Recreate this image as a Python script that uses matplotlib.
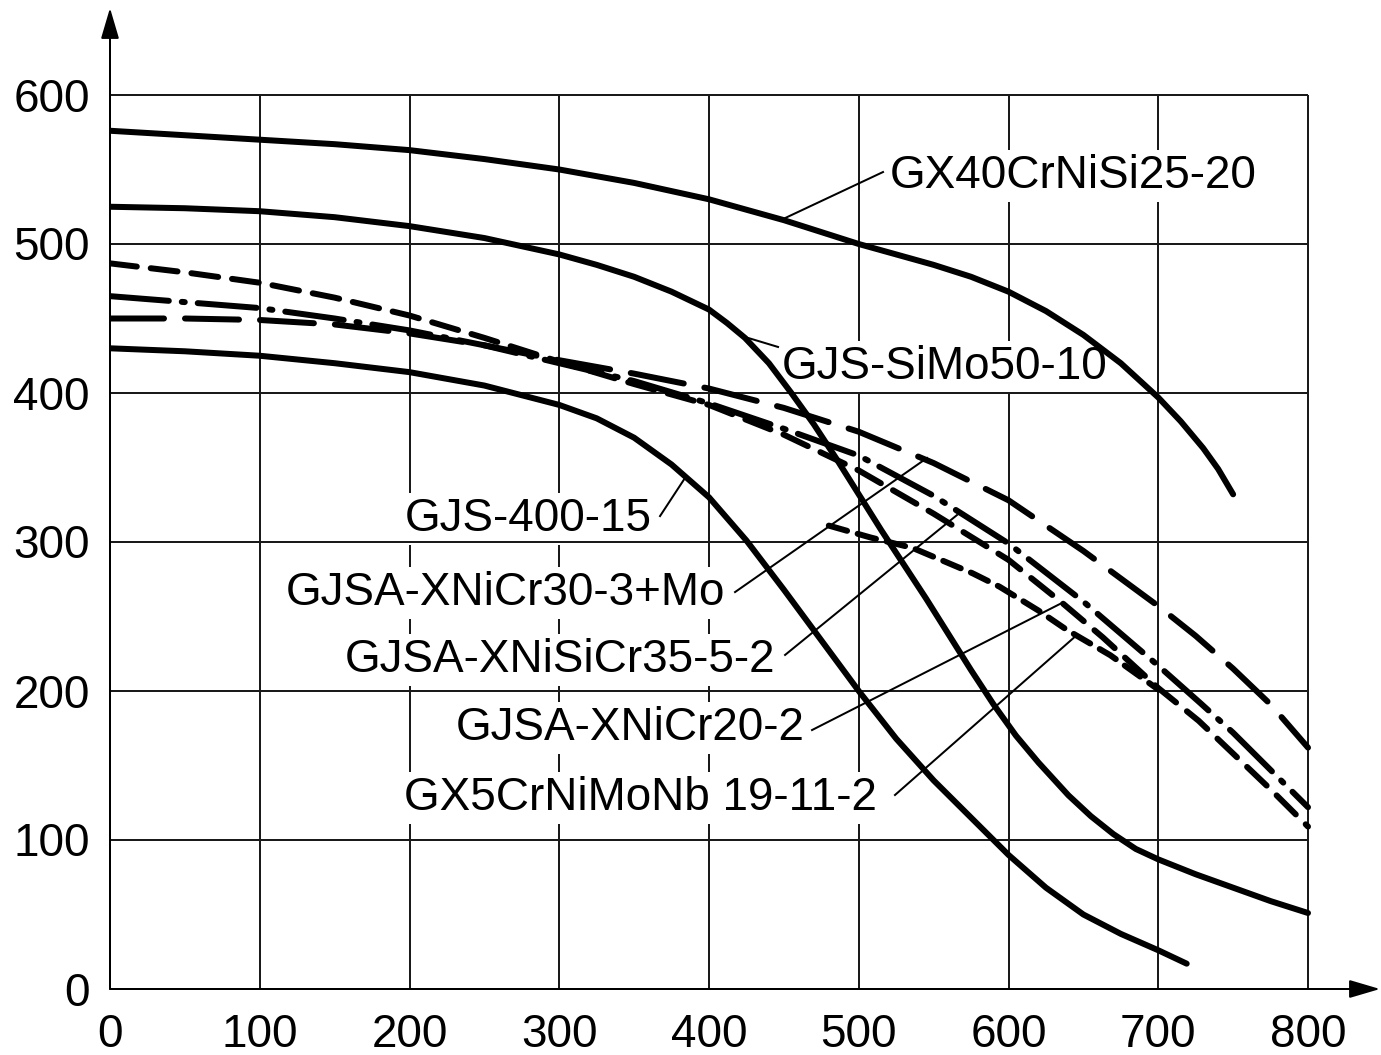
import matplotlib
matplotlib.use('Agg')
import matplotlib.pyplot as plt

plt.rcParams['font.family'] = ['Liberation Sans', 'DejaVu Sans']
plt.rcParams['lines.scale_dashes'] = False

# ---------------- data ----------------
x_ticks = [0, 100, 200, 300, 400, 500, 600, 700, 800]
y_ticks = [0, 100, 200, 300, 400, 500, 600]

gx40_x = [0, 50, 100, 150, 200, 250, 300, 350, 400, 425, 450, 475, 500, 525, 550, 575, 600, 625, 650, 675, 700, 715, 730, 740, 750]
gx40_y = [576, 573, 570, 567, 563, 557, 550, 541, 530, 523, 516, 508, 500, 493, 486, 478, 468, 455, 439, 420, 397, 381, 363, 349, 332]

simo_x = [0, 50, 100, 150, 200, 250, 300, 325, 350, 375, 400, 412, 424, 440, 455, 470, 485, 500, 515, 530, 545, 560, 575, 590, 605, 620, 640, 655, 670, 685, 700, 725, 750, 775, 800]
simo_y = [525, 524, 522, 518, 512, 504, 493, 486, 478, 468, 456, 447, 437, 420, 400, 379, 356, 332, 308, 285, 262, 238, 214, 191, 170, 152, 130, 116, 104, 94, 87, 77, 68, 59, 51]

gjs400_x = [0, 50, 100, 150, 200, 250, 300, 325, 350, 375, 400, 425, 450, 475, 500, 525, 550, 575, 600, 625, 650, 675, 700, 719]
gjs400_y = [430, 428, 425, 420, 414, 405, 392, 383, 370, 352, 330, 301, 268, 234, 200, 168, 140, 115, 90, 68, 50, 37, 26, 17]

nicr30_x = [0, 50, 100, 150, 200, 250, 300, 350, 400, 450, 500, 550, 600, 650, 700, 725, 750, 775, 800]
nicr30_y = [450, 450, 449, 446, 440, 432, 422, 413, 403, 390, 374, 353, 328, 294, 257, 237, 215, 191, 162]

nisicr35_x = [0, 50, 100, 150, 200, 250, 300, 350, 400, 450, 500, 550, 600, 650, 700, 728, 750, 775, 800]
nisicr35_y = [465, 461, 457, 450, 442, 432, 420, 408, 393, 376, 358, 331, 299, 260, 217, 192, 172, 147, 122]

nicr20_x = [0, 50, 100, 150, 200, 250, 300, 350, 400, 450, 500, 550, 600, 636, 663, 700, 727, 750, 775, 800]
nicr20_y = [487, 481, 474, 464, 452, 437, 421, 406, 392, 372, 348, 319, 288, 259, 236, 202, 180, 158, 134, 109]

gx5_x = [480, 508, 536, 576, 594, 620, 639, 668, 700]
gx5_y = [311, 303, 296, 279, 270, 254, 241, 224, 201]

names = ['GX40CrNiSi25-20', 'GJS-SiMo50-10', 'GJS-400-15', 'GJSA-XNiCr30-3+Mo',
         'GJSA-XNiSiCr35-5-2', 'GJSA-XNiCr20-2', 'GX5CrNiMoNb 19-11-2']

# ---------------- layout ----------------
W, H, DPI = 1381, 1055, 100
PT = 72 / DPI
X0, X800 = 110, 1308
Y0, Y600 = 989, 95
sx = (X800 - X0) / 800
sy = (Y0 - Y600) / 600

fig = plt.figure(figsize=(W / DPI, H / DPI), dpi=DPI)
ax = fig.add_axes([X0 / W, (H - Y0) / H, (W - X0) / W, Y0 / H])
ax.set_xlim(0, (W - X0) / sx)
ax.set_ylim(0, Y0 / sy)
ax.set_axis_off()

FS = 33
grid_kw = dict(color='#1a1a1a', lw=2 * PT, solid_capstyle='butt')
for v in x_ticks[1:]:
    ax.plot([v, v], [0, y_ticks[-1]], zorder=1, **grid_kw)
for v in y_ticks[1:]:
    ax.plot([0, x_ticks[-1]], [v, v], zorder=2.5, **grid_kw)

arrow = dict(arrowstyle='-|>,head_length=0.95,head_width=0.28', mutation_scale=20,
             lw=2 * PT, color='black', shrinkA=0, shrinkB=0)
ax.annotate('', xy=(W - 1, H - Y0), xytext=(X0, H - Y0), xycoords='figure pixels',
            textcoords='figure pixels', arrowprops=arrow, zorder=4)
ax.annotate('', xy=(X0, H - 8), xytext=(X0, H - Y0), xycoords='figure pixels',
            textcoords='figure pixels', arrowprops=arrow, zorder=4)

for v in x_ticks:
    ax.annotate(str(v), xy=(v, 0), xytext=(0, -58 * PT), textcoords='offset points',
                ha='center', va='baseline', fontsize=FS)
for v in y_ticks:
    ax.annotate(str(v), xy=(0, v), xytext=(-20 * PT, -16.5 * PT), textcoords='offset points',
                ha='right', va='baseline', fontsize=FS)

LW = 6 * PT
styles = {
    'solid': '-',
    'long': (0, (54 * PT, 21 * PT)),
    'medium': (0, (27 * PT, 14 * PT)),
    'dashdot': (0, (59 * PT, 13 * PT, 3 * PT, 13 * PT)),
    'short': (0, (19 * PT, 11 * PT)),
}
series = [
    (gx40_x, gx40_y, 'solid'),
    (simo_x, simo_y, 'solid'),
    (gjs400_x, gjs400_y, 'solid'),
    (nicr30_x, nicr30_y, 'long'),
    (nisicr35_x, nisicr35_y, 'dashdot'),
    (nicr20_x, nicr20_y, 'medium'),
    (gx5_x, gx5_y, 'short'),
]
for xs, ys, st in series:
    ax.plot(xs, ys, color='black', lw=LW, linestyle=styles[st], solid_capstyle='round',
            dash_capstyle='round', solid_joinstyle='round', dash_joinstyle='round', zorder=3)

# label: (text anchor x, baseline y, ha, pointer start, pointer end)
label_layout = [
    (520.9, 537.6, 'left', (516.2, 548.3), (450.8, 517.4)),
    (448.7, 409.4, 'left', (446.1, 430.9), (424.0, 437.6)),
    (361.9, 307.4, 'right', (367.3, 317.4), (384.0, 343.0)),
    (410.7, 257.7, 'right', (417.4, 266.4), (545.6, 356.4)),
    (444.1, 212.8, 'right', (450.8, 224.2), (565.6, 318.1)),
    (464.1, 167.1, 'right', (468.8, 173.8), (635.7, 259.1)),
    (512.2, 120.1, 'right', (524.2, 130.2), (645.7, 237.6)),
]
for name, (tx, ty, ha, p0, p1) in zip(names, label_layout):
    ax.text(tx, ty, name, ha=ha, va='baseline', fontsize=FS, zorder=2,
            bbox=dict(facecolor='white', edgecolor='none', pad=3))
    ax.plot([p0[0], p1[0]], [p0[1], p1[1]], color='black', lw=2 * PT, zorder=3)

fig.savefig('out.png', dpi=DPI, facecolor='white')
